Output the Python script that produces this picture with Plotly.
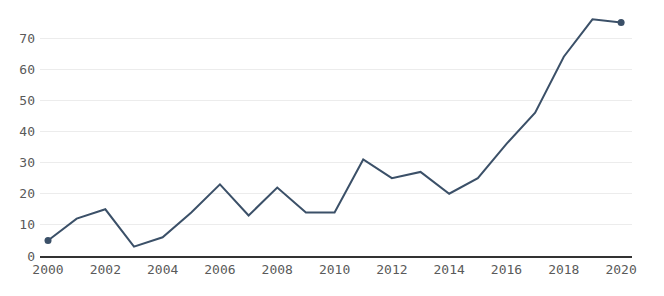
import plotly.graph_objects as go

years = list(range(2000, 2021))
values = [5, 12, 15, 3, 6, 14, 23, 13, 22, 14, 14, 31, 25, 27, 20, 25, 36, 46, 64, 76, 75]
x_ticks = list(range(2000, 2021, 2))
y_ticks = [0, 10, 20, 30, 40, 50, 60, 70]

line_color = "#3b5068"
fig = go.Figure()
fig.add_trace(go.Scatter(
    x=years, y=values, mode="lines",
    line=dict(color=line_color, width=2),
    hoverinfo="x+y", showlegend=False,
))
fig.add_trace(go.Scatter(
    x=[years[0], years[-1]], y=[values[0], values[-1]], mode="markers",
    marker=dict(color=line_color, size=7),
    showlegend=False, hoverinfo="skip",
))

fig.update_layout(
    width=664, height=296,
    margin=dict(l=32, r=40, t=2, b=48, autoexpand=False),
    paper_bgcolor="white", plot_bgcolor="white",
    font=dict(family="DejaVu Sans Mono", size=13, color="#5a5a5a"),
    xaxis=dict(
        range=[1999.72, 2020.38], tickvals=x_ticks, showgrid=False,
        showline=True, linecolor="#333333", linewidth=2, zeroline=False,
        ticks="", automargin=False,
    ),
    yaxis=dict(
        range=[0, 79], tickvals=y_ticks, showgrid=True, gridcolor="#ececec",
        gridwidth=1, zeroline=False, showline=False, ticks="",
        ticklabelstandoff=4, automargin=False,
    ),
)

fig.write_html("out.html")
